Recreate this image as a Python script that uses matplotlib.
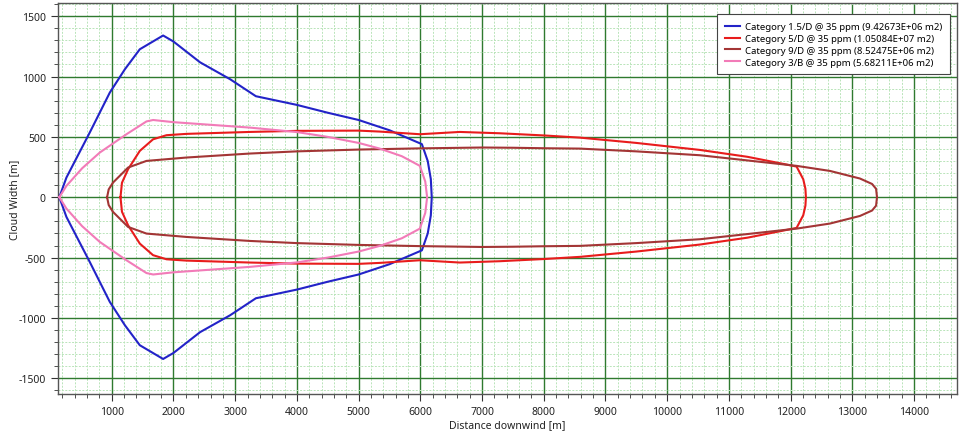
import numpy as np
import matplotlib
matplotlib.use("Agg")
import matplotlib.pyplot as plt
from matplotlib.ticker import MultipleLocator

plt.rcParams['font.family'] = ['Noto Sans', 'DejaVu Sans']
plt.rcParams['axes.unicode_minus'] = False

# upper half of each footprint (distance, half width); clouds are symmetric about y=0
blue_x = [150, 265, 643, 968, 1212, 1454, 1832, 2000, 2430, 2917, 3335, 4000, 4500, 5000, 5500, 6025, 6120, 6170, 6185]
blue_y = [0, 163, 536, 867, 1060, 1226, 1340, 1290, 1118, 978, 837, 765, 700, 640, 555, 440, 300, 150, 0]

red_x = [1141, 1165, 1264, 1454, 1669, 1887, 2211, 3237, 4000, 5000, 5343, 5992, 6640, 7288, 8000, 8585,
         9500, 10530, 11300, 11826, 12097, 12205, 12240, 12248]
red_y = [0, 120, 232, 384, 480, 514, 525, 541, 550, 552, 544, 522, 541, 530, 512, 494,
         450, 392, 335, 282, 254, 149, 70, 0]

brown_x = [924, 950, 1021, 1264, 1562, 2211, 3237, 4000, 5000, 6000, 7000, 7500, 8000, 8585, 9500,
           10530, 11300, 12097, 12638, 13124, 13320, 13385, 13400]
brown_y = [0, 65, 122, 246, 301, 329, 362, 380, 395, 405, 412, 410, 406, 403, 380,
           348, 305, 260, 218, 155, 110, 70, 0]

pink_x = [150, 265, 520, 805, 1238, 1562, 1670, 2000, 3237, 4000, 4500, 5000, 5343, 5700, 5992, 6080, 6110]
pink_y = [0, 94, 240, 370, 522, 628, 640, 622, 577, 540, 500, 450, 403, 340, 260, 130, 0]

labels = ["Category 1.5/D @ 35 ppm (9.42673E+06 m2)",
          "Category 5/D @ 35 ppm (1.05084E+07 m2)",
          "Category 9/D @ 35 ppm (8.52475E+06 m2)",
          "Category 3/B @ 35 ppm (5.68211E+06 m2)"]
colors = ["#2323c8", "#e81c1c", "#a33535", "#f27bb8"]

fig = plt.figure(figsize=(9.63, 4.35), dpi=100)
ax = fig.add_axes([0.060, 0.092, 0.934, 0.899])

for xs, ys, lab, c in zip([blue_x, red_x, brown_x, pink_x], [blue_y, red_y, brown_y, pink_y], labels, colors):
    xs = np.array(xs, dtype=float)
    ys = np.array(ys, dtype=float)
    # close the contour by mirroring the upper half
    cx = np.concatenate([xs, xs[::-1][1:]])
    cy = np.concatenate([ys, -ys[::-1][1:]])
    ax.plot(cx, cy, color=c, lw=1.5, label=lab, zorder=3)

ax.set_xlim(125, 14700)
ax.set_ylim(-1630, 1610)

ax.xaxis.set_major_locator(MultipleLocator(1000))
ax.xaxis.set_minor_locator(MultipleLocator(200))
ax.yaxis.set_major_locator(MultipleLocator(500))
ax.yaxis.set_minor_locator(MultipleLocator(100))

ax.grid(which='minor', color='#b9e4b9', lw=0.7, ls=(0, (2, 1.5)), zorder=0)
ax.grid(which='major', color='#2f7a2f', lw=1.0, zorder=1)
ax.set_axisbelow(True)

ax.tick_params(which='major', direction='out', length=5, labelsize=7.5, color='#333333', labelcolor='#222222')
ax.tick_params(which='minor', direction='out', length=3, color='#333333')
for s in ax.spines.values():
    s.set_color('#555555')
    s.set_linewidth(1.0)

ax.set_xlabel("Distance downwind [m]", fontsize=7.5, color='#222222', labelpad=2)
ax.set_ylabel("Cloud Width [m]", fontsize=7.5, color='#222222')
ax.yaxis.set_label_coords(-0.042, 0.5)

leg = ax.legend(loc='upper right', fontsize=6.9, frameon=True, fancybox=False,
                handlelength=1.6, borderpad=0.8, labelspacing=0.3, handletextpad=0.5,
                bbox_to_anchor=(0.9975, 0.983))
leg.get_frame().set_edgecolor('#444444')
leg.get_frame().set_linewidth(0.8)
leg.get_frame().set_alpha(1.0)

fig.savefig("out.png", dpi=100)
